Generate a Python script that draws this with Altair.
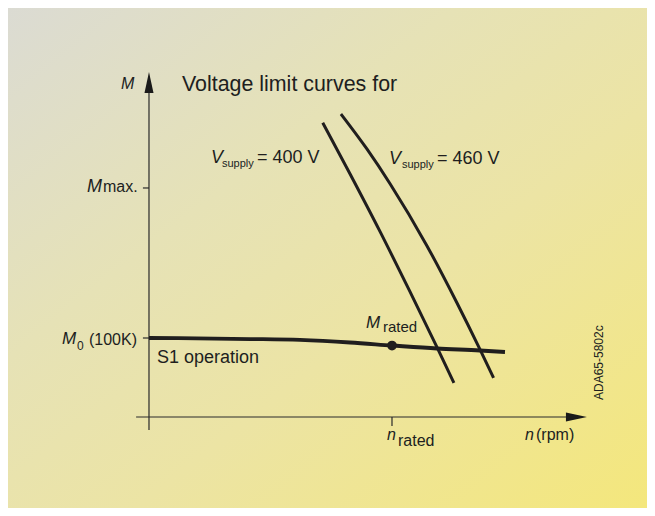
import altair as alt
import pandas as pd

# ---------------- data (normalised units: n / n_rated, M / M0) ----------------
torque_n = [0.0, 0.416, 0.621, 0.827, 1.0, 1.185, 1.362, 1.465]
torque_M = [1.0, 0.987, 0.975, 0.943, 0.905, 0.867, 0.842, 0.823]

v400_n = [0.715, 0.827, 0.951, 1.074, 1.185, 1.255]
v400_M = [3.725, 3.079, 2.346, 1.586, 0.885, 0.432]

v460_n = [0.790, 0.896, 0.992, 1.143, 1.266, 1.362, 1.418]
v460_M = [3.835, 3.396, 2.953, 2.172, 1.453, 0.856, 0.494]

rated_n = [1.0]
rated_M = [0.905]

M_max = 2.899
M_0 = 1.0
n_rated = 1.0

# ---------------- layout ----------------
W, H = 639, 500
N_DOMAIN = [-0.5802, 2.0494]
M_DOMAIN = [-1.1519, 5.1772]
FONT = "Liberation Sans"
INK = "#201e1e"

xs = alt.Scale(domain=N_DOMAIN, nice=False, zero=False)
ys = alt.Scale(domain=M_DOMAIN, nice=False, zero=False)


def X(f="n"):
    return alt.X(f"{f}:Q", scale=xs, axis=None)


def Y(f="M"):
    return alt.Y(f"{f}:Q", scale=ys, axis=None)


# background gradient
bg_df = pd.DataFrame({"n": [N_DOMAIN[0]], "n2": [N_DOMAIN[1]],
                      "M": [M_DOMAIN[0]], "M2": [M_DOMAIN[1]]})
bg = alt.Chart(bg_df).mark_rect(
    fill=alt.LinearGradient(
        gradient="linear",
        stops=[alt.GradientStop(color="#dbdbd3", offset=0),
               alt.GradientStop(color="#e6e2b6", offset=0.35),
               alt.GradientStop(color="#ece4a4", offset=0.6),
               alt.GradientStop(color="#f4e77c", offset=1)],
        x1=0, y1=0, x2=1, y2=1),
    strokeWidth=0,
).encode(x=X("n"), x2="n2:Q", y=Y("M"), y2="M2:Q")

# axes
axes_df = pd.DataFrame({
    "n": [0.0, -0.053, -0.025, -0.025, n_rated],
    "n2": [0.0, 1.716, 0.0, 0.0, n_rated],
    "M": [-0.165, 0.0, M_max, M_0, 0.0],
    "M2": [4.10, 0.0, M_max, M_0, -0.114],
})
axes = alt.Chart(axes_df).mark_rule(color="#2a2a2a", strokeWidth=1.2).encode(
    x=X("n"), x2="n2:Q", y=Y("M"), y2="M2:Q")

up_arrow = alt.Chart(pd.DataFrame({"n": [0.0], "M": [4.234]})).mark_point(
    shape="M0,-1L0.43,1L-0.43,1Z", size=441, filled=True, opacity=1,
    color="#1a1a1a", strokeWidth=0).encode(x=X(), y=Y())
right_arrow = alt.Chart(pd.DataFrame({"n": [1.759], "M": [0.0]})).mark_point(
    shape="M1,0L-1,-0.43L-1,0.43Z", size=441, filled=True, opacity=1,
    color="#1a1a1a", strokeWidth=0).encode(x=X(), y=Y())


# curves
def curve(ns, ms, width):
    df = pd.DataFrame({"n": ns, "M": ms, "i": range(len(ns))})
    return alt.Chart(df).mark_line(color=INK, strokeWidth=width,
                                   interpolate="monotone").encode(
        x=X(), y=Y(), order="i:Q")


torque = curve(torque_n, torque_M, 3.8)
c400 = curve(v400_n, v400_M, 3.0)
c460 = curve(v460_n, v460_M, 3.0)

dot = alt.Chart(pd.DataFrame({"n": rated_n, "M": rated_M})).mark_circle(
    size=95, color=INK, opacity=1).encode(x=X(), y=Y())

# labels
normal_labels = pd.DataFrame([
    ("Voltage limit curves for", 0.1358, 4.1266, 21.4),
    ("supply", 0.3004, 3.1646, 11),
    ("= 400 V", 0.4444, 3.2152, 18),
    ("supply", 1.0412, 3.1519, 11),
    ("= 460 V", 1.1852, 3.2025, 18),
    ("max.", -0.1893, 2.8481, 16),
    ("0", -0.2963, 0.8481, 12),
    ("(100K)", -0.2469, 0.9114, 16),
    ("S1 operation", 0.0329, 0.6835, 18),
    ("rated", 0.9630, 1.0759, 15),
    ("rated", 1.0247, -0.3671, 16),
    ("(rpm)", 1.5926, -0.2911, 16),
], columns=["t", "n", "M", "fs"])

italic_labels = pd.DataFrame([
    ("M", -0.1152, 4.1519, 16),
    ("V", 0.2551, 3.2152, 18),
    ("V", 0.9877, 3.2025, 18),
    ("M", -0.2551, 2.8481, 18),
    ("M", -0.3580, 0.9241, 17),
    ("M", 0.8930, 1.1266, 17),
    ("n", 0.9794, -0.2911, 16),
    ("n", 1.5473, -0.2911, 16),
], columns=["t", "n", "M", "fs"])

txt_normal = alt.Chart(normal_labels).mark_text(
    align="left", baseline="alphabetic", font=FONT, color=INK).encode(
    x=X(), y=Y(), text="t:N", size=alt.Size("fs:Q", scale=None))
txt_italic = alt.Chart(italic_labels).mark_text(
    align="left", baseline="alphabetic", font=FONT, fontStyle="italic",
    color=INK).encode(
    x=X(), y=Y(), text="t:N", size=alt.Size("fs:Q", scale=None))

code_lbl = alt.Chart(pd.DataFrame({"t": ["ADA65-5802c"], "n": [1.8519],
                                   "M": [0.2152]})).mark_text(
    align="left", baseline="middle", angle=270, font=FONT, fontSize=12,
    color=INK).encode(x=X(), y=Y(), text="t:N")

chart = alt.layer(
    bg, axes, up_arrow, right_arrow, torque, c400, c460, dot,
    txt_normal, txt_italic, code_lbl,
).properties(
    width=W, height=H,
    autosize=alt.AutoSizeParams(type="none"),
    padding=0,
    background="white",
).configure_view(stroke=None)

chart.save("out.html", embed_options={"renderer": "svg", "actions": False})
